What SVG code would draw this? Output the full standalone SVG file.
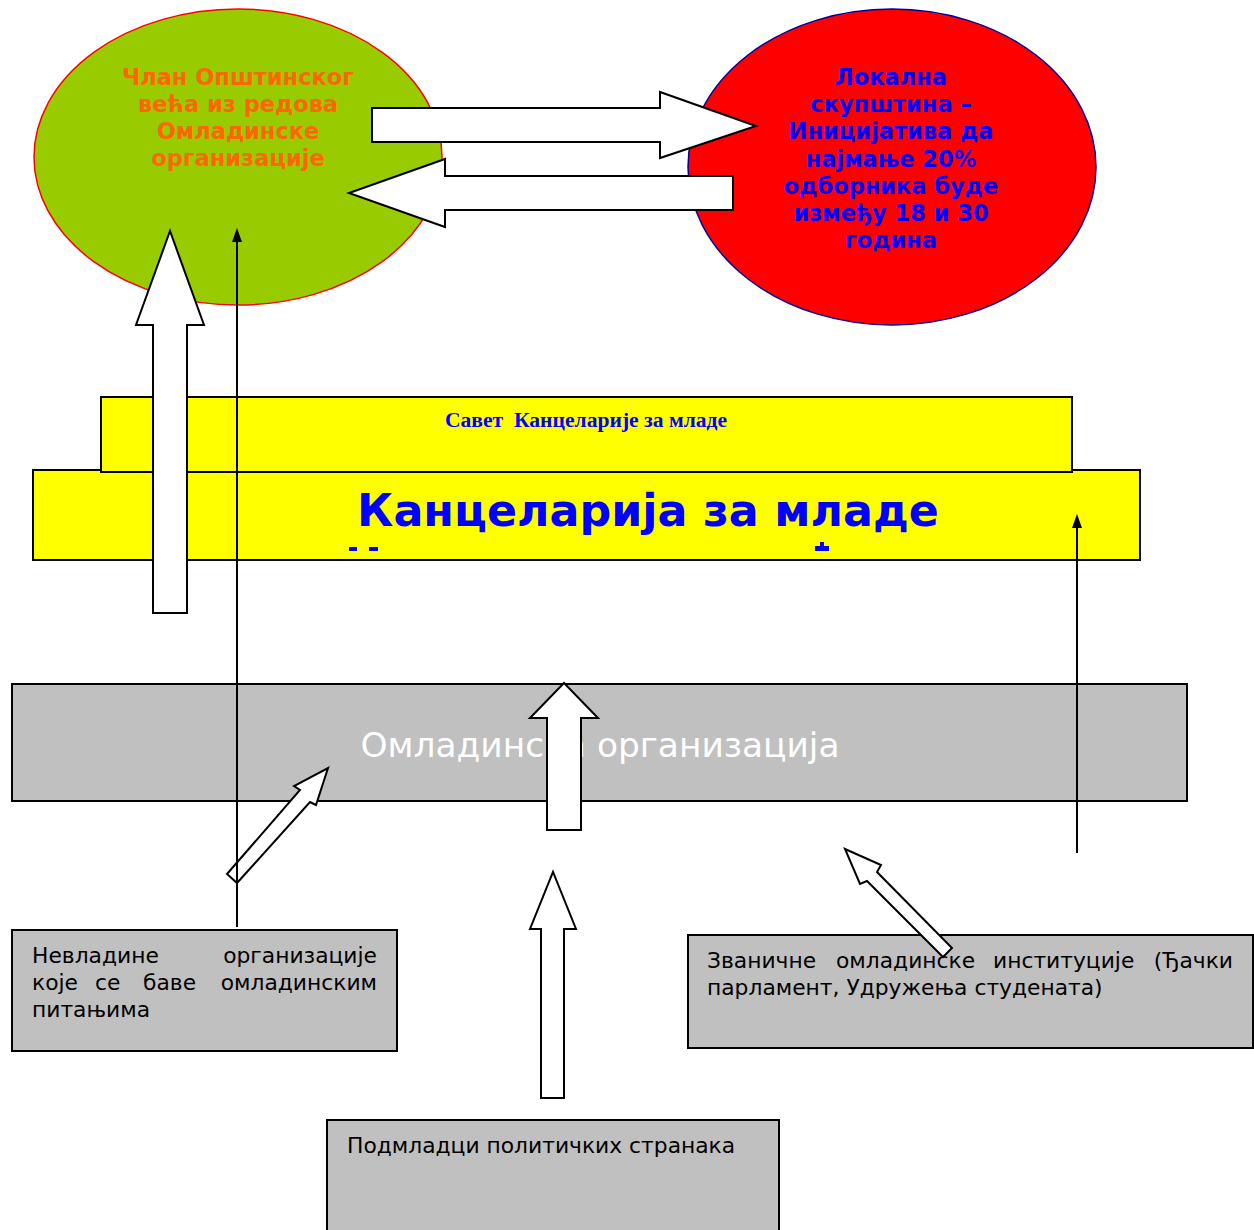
<svg xmlns="http://www.w3.org/2000/svg" width="1254" height="1230" viewBox="0 0 1254 1230">
<style>
.wa{fill:#fff;stroke:#000;stroke-width:2;stroke-linejoin:miter}
.gray{fill:#C0C0C0;stroke:#000;stroke-width:2}
.yel{fill:#FFFF00;stroke:#000;stroke-width:2}
.bt{font-family:"DejaVu Sans",Verdana,sans-serif;font-weight:bold;font-size:22.5px;text-anchor:middle}
.nt{font-family:"DejaVu Sans",Verdana,sans-serif;font-size:21.8px;fill:#000}
.thin{stroke:#000;stroke-width:2;fill:none}
.head{fill:#000}
</style>
<rect width="1254" height="1230" fill="#fff"/>

<g id="node-clan">
<ellipse cx="238" cy="157" rx="204" ry="148" fill="#99CC00" stroke="#FF0000" stroke-width="1.5"/>
<text class="bt" fill="#FF6600"><tspan x="238" y="85">Члан Општинског</tspan><tspan x="238" y="112">већа из редова</tspan><tspan x="238" y="139">Омладинске</tspan><tspan x="238" y="166">организације</tspan></text>
</g>

<g id="node-skupstina">
<ellipse cx="892" cy="167" rx="204" ry="158" fill="#FF0000" stroke="#000099" stroke-width="1.5"/>
<text class="bt" fill="#0000FF"><tspan x="891" y="85">Локална</tspan><tspan x="891" y="112">скупштина –</tspan><tspan x="891" y="139">Иницијатива да</tspan><tspan x="891" y="167">најмање 20%</tspan><tspan x="891" y="194">одборника буде</tspan><tspan x="891" y="221">између 18 и 30</tspan><tspan x="891" y="248">година</tspan></text>
</g>

<g id="node-kancelarija">
<rect class="yel" x="33" y="470" width="1107" height="90"/>
<text x="648" y="526" font-family="'DejaVu Sans',Verdana,sans-serif" font-weight="bold" font-size="44.4" fill="#0000FF" text-anchor="middle">Канцеларија за младе</text>
<rect x="349" y="547" width="8" height="4" fill="#0000FF"/>
<rect x="369" y="547" width="9" height="4" fill="#0000FF"/>
<rect x="815" y="546" width="14" height="5" fill="#0000FF"/>
<rect x="820" y="542" width="4" height="4" fill="#0000FF"/>
</g>

<g id="node-savet">
<rect class="yel" x="101" y="397" width="971" height="75"/>
<text x="586" y="427" font-family="'Liberation Serif','Times New Roman',serif" font-weight="bold" font-size="21.6" fill="#0000FF" text-anchor="middle" xml:space="preserve">Савет  Канцеларије за младе</text>
</g>

<g id="node-omladinska">
<rect class="gray" x="12" y="684" width="1175" height="117"/>
<text x="600" y="757" font-family="'DejaVu Sans',Verdana,sans-serif" font-size="34.4" fill="#fff" text-anchor="middle">Омладинска организација</text>
</g>

<g id="node-nvo">
<rect class="gray" x="12" y="930" width="385" height="121"/>
<text class="nt" y="963"><tspan x="32">Невладине</tspan><tspan x="377" text-anchor="end">организације</tspan></text>
<text class="nt" y="990"><tspan x="32">које</tspan><tspan x="95">се</tspan><tspan x="143">баве</tspan><tspan x="377" text-anchor="end">омладинским</tspan></text>
<text class="nt" x="32" y="1017">питањима</text>
</g>

<g id="node-zvanicne">
<rect class="gray" x="688" y="935" width="565" height="113"/>
</g>

<g id="node-podmladci">
<rect class="gray" x="327" y="1120" width="452" height="115"/>
<text class="nt" x="347" y="1153">Подмладци политичких странака</text>
</g>

<g id="connectors">
<path class="wa" d="M372,108 L660,108 L660,92 L756,126 L660,158 L660,142 L372,142 Z"/>
<path class="wa" d="M733,176 L445,176 L445,159 L349,193 L445,227 L445,210 L733,210 Z"/>
<path class="wa" d="M153,613 L153,325 L136,325 L170,231 L204,325 L187,325 L187,613 Z"/>
<path class="wa" d="M547,830 L547,718 L530,718 L564,683 L598,718 L581,718 L581,830 Z"/>
<path class="wa" d="M541,1098 L541,929 L530,929 L553,872 L576,929 L564,929 L564,1098 Z"/>
<path class="wa" d="M227,874 L300,790 L294,786 L328,768 L316,805 L310,802 L237,883 Z"/>
<path class="wa" d="M845,849 L881,865 L877,872 L952,948 L943,957 L867,881 L860,884 Z"/>
<line class="thin" x1="237" y1="927" x2="237" y2="238"/>
<path class="head" d="M237,228 L242,242 L232,242 Z"/>
<line class="thin" x1="1077" y1="853" x2="1077" y2="524"/>
<path class="head" d="M1077,514 L1082,528 L1072,528 Z"/>
</g>

<g id="node-zvanicne-text">
<text class="nt" y="968"><tspan x="707">Званичне</tspan><tspan x="836">омладинске</tspan><tspan x="993">институције</tspan><tspan x="1233" text-anchor="end">(Ђачки</tspan></text>
<text class="nt" x="707" y="995">парламент, Удружења студената)</text>
</g>
</svg>
